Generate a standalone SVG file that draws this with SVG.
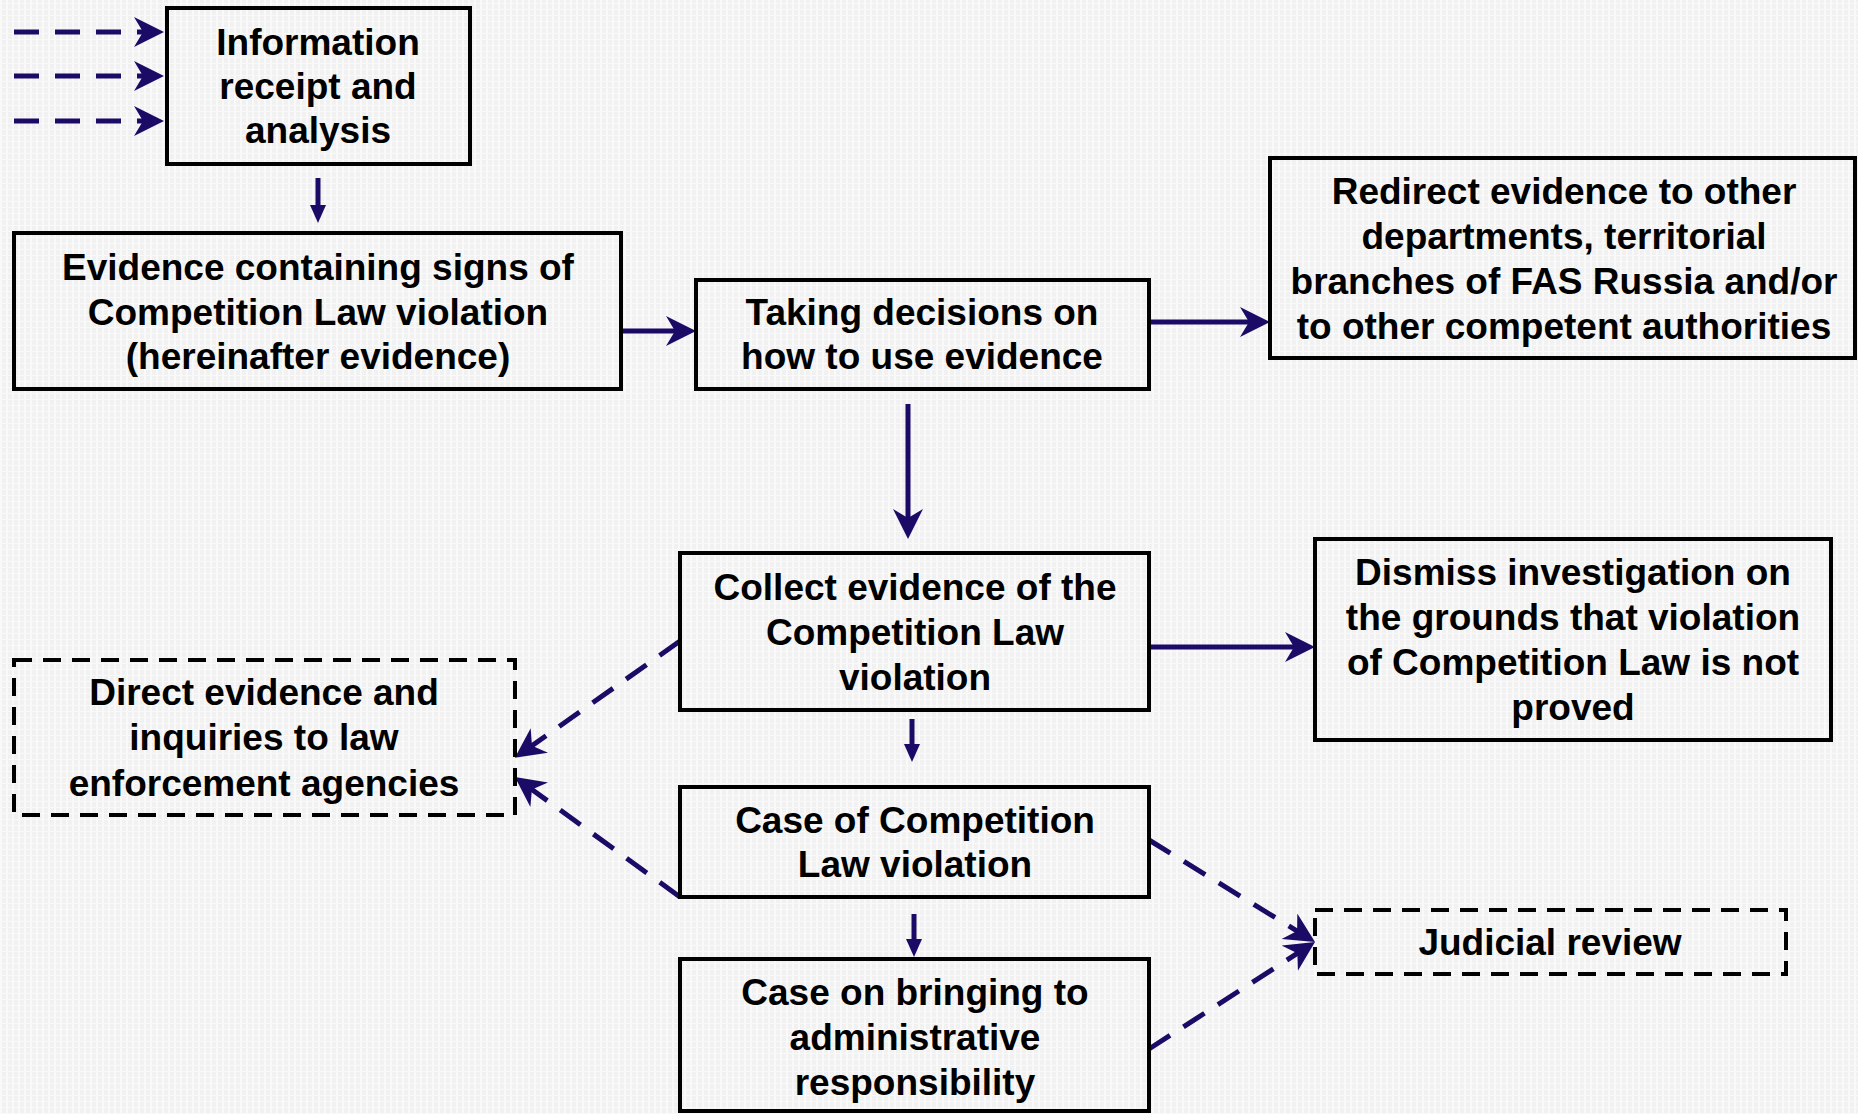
<svg xmlns="http://www.w3.org/2000/svg" width="1858" height="1114" viewBox="0 0 1858 1114">
<defs>
<pattern id="bg" width="6" height="6" patternUnits="userSpaceOnUse">
<rect width="6" height="6" fill="#f1f1f1"/>
<rect x="0" y="0" width="2" height="6" fill="#f9f9f9"/>
<rect x="0" y="3" width="6" height="1" fill="#f9f9f9"/>
</pattern>
<marker id="big" markerUnits="userSpaceOnUse" markerWidth="32" markerHeight="32" refX="20" refY="15" orient="auto">
<path d="M0,0 L30,15 L0,30 L9,15 z" fill="#1b0b66"/>
</marker>
<marker id="small" markerUnits="userSpaceOnUse" markerWidth="20" markerHeight="18" refX="8" refY="8" orient="auto">
<path d="M0,0 L18,8 L0,16 z" fill="#1b0b66"/>
</marker>
</defs>
<style>
.box{fill:none;stroke:#000;stroke-width:4}
.dbox{fill:none;stroke:#000;stroke-width:4;stroke-dasharray:18 11}
.t{font-family:"Liberation Sans",Arial,sans-serif;font-weight:bold;font-size:37px;fill:#000;text-anchor:middle}
.c{stroke:#1b0b66;stroke-width:5;fill:none}
.big{marker-end:url(#big)}
.small{marker-end:url(#small)}
.dash{stroke-dasharray:25 16}
</style>
<rect width="1858" height="1114" fill="url(#bg)"/>

<g id="connectors">
<line class="c dash big" x1="14" y1="32" x2="154" y2="32"/>
<line class="c dash big" x1="14" y1="76" x2="154" y2="76"/>
<line class="c dash big" x1="14" y1="121" x2="154" y2="121"/>
<line class="c small" x1="318" y1="178" x2="318" y2="213"/>
<line class="c big" x1="621" y1="331" x2="686" y2="331"/>
<line class="c big" x1="1149" y1="322" x2="1260" y2="322"/>
<line class="c big" x1="908" y1="404" x2="908" y2="529"/>
<line class="c big" x1="1149" y1="647" x2="1305" y2="647"/>
<line class="c small" x1="912" y1="719" x2="912" y2="752"/>
<line class="c small" x1="914" y1="914" x2="914" y2="947"/>
<line class="c dash big" x1="680" y1="641" x2="523" y2="752"/>
<line class="c dash big" x1="680" y1="897" x2="523" y2="783"/>
<line class="c dash big" x1="1149" y1="840" x2="1306.5" y2="936.8"/>
<line class="c dash big" x1="1149" y1="1049" x2="1306.6" y2="947.4"/>
</g>

<g id="info">
<rect class="box" x="167" y="8" width="303" height="156"/>
<text class="t" x="318" y="55">Information</text>
<text class="t" x="318" y="99">receipt and</text>
<text class="t" x="318" y="143">analysis</text>
</g>

<g id="evidence">
<rect class="box" x="14" y="233" width="607" height="156"/>
<text class="t" x="318" y="280">Evidence containing signs of</text>
<text class="t" x="318" y="325">Competition Law violation</text>
<text class="t" x="318" y="369">(hereinafter evidence)</text>
</g>

<g id="taking">
<rect class="box" x="696" y="280" width="453" height="109"/>
<text class="t" x="922" y="325">Taking decisions on</text>
<text class="t" x="922" y="369">how to use evidence</text>
</g>

<g id="redirect">
<rect class="box" x="1270" y="158" width="585" height="200"/>
<text class="t" x="1564" y="204">Redirect evidence to other</text>
<text class="t" x="1564" y="249">departments, territorial</text>
<text class="t" x="1564" y="294">branches of FAS Russia and/or</text>
<text class="t" x="1564" y="339">to other competent authorities</text>
</g>

<g id="collect">
<rect class="box" x="680" y="553" width="469" height="157"/>
<text class="t" x="915" y="600">Collect evidence of the</text>
<text class="t" x="915" y="645">Competition Law</text>
<text class="t" x="915" y="690">violation</text>
</g>

<g id="dismiss">
<rect class="box" x="1315" y="539" width="516" height="201"/>
<text class="t" x="1573" y="585">Dismiss investigation on</text>
<text class="t" x="1573" y="630">the grounds that violation</text>
<text class="t" x="1573" y="675">of Competition Law is not</text>
<text class="t" x="1573" y="720">proved</text>
</g>

<g id="direct">
<rect class="dbox" x="14" y="660" width="501" height="155"/>
<text class="t" x="264" y="705">Direct evidence and</text>
<text class="t" x="264" y="750">inquiries to law</text>
<text class="t" x="264" y="796">enforcement agencies</text>
</g>

<g id="case">
<rect class="box" x="680" y="787" width="469" height="110"/>
<text class="t" x="915" y="833">Case of Competition</text>
<text class="t" x="915" y="877">Law violation</text>
</g>

<g id="bringing">
<rect class="box" x="680" y="959" width="469" height="152"/>
<text class="t" x="915" y="1005">Case on bringing to</text>
<text class="t" x="915" y="1050">administrative</text>
<text class="t" x="915" y="1095">responsibility</text>
</g>

<g id="judicial">
<rect class="dbox" x="1315" y="910" width="471" height="64"/>
<text class="t" x="1550" y="955">Judicial review</text>
</g>
</svg>
